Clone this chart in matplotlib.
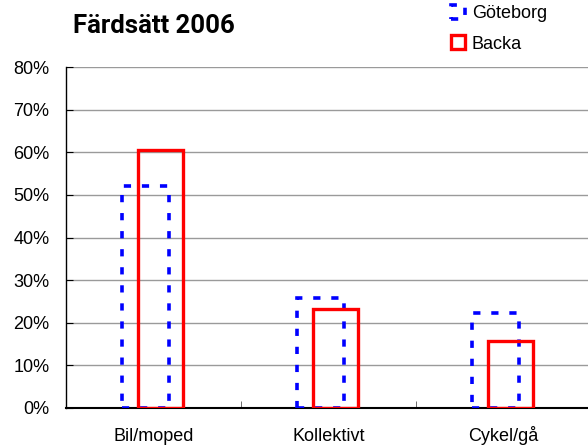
import matplotlib.pyplot as plt
import numpy as np

categories = ["Bil/moped", "Kollektivt", "Cykel/gå"]
goteborg = [52, 25.7, 22.4]
backa = [60.5, 23.2, 15.8]
y_ticks = [0, 10, 20, 30, 40, 50, 60, 70, 80]

plt.rcParams['font.family'] = ['Liberation Sans', 'DejaVu Sans']

fig = plt.figure(figsize=(5.88, 4.45), dpi=100)
ax = fig.add_axes([66 / 588, 37 / 445, 525 / 588, 341 / 445])

x = np.arange(len(categories))
ax.bar(x - 0.047, goteborg, width=0.27, fill=False, edgecolor='#0000ff',
       linewidth=2.6, linestyle=(0, (2, 3)), label='Göteborg', zorder=3)
ax.bar(x + 0.04, backa, width=0.26, fill=False, edgecolor='#ff0000',
       linewidth=2.4, label='Backa', zorder=4)

ax.set_xlim(-0.5, 2.5)
ax.set_ylim(0, 80)
ax.set_yticks(y_ticks)
ax.set_yticklabels([f"{v}%" for v in y_ticks], fontsize=13)
ax.yaxis.grid(True, color='#9a9a9a', linewidth=1)
ax.set_axisbelow(True)

ax.set_xticks(x)
ax.set_xticklabels(categories, fontsize=13, va='baseline')
ax.tick_params(axis='x', which='major', length=0, pad=24)
ax.set_xticks([0.5, 1.5], minor=True)
ax.tick_params(axis='x', which='minor', direction='in', length=5, color='#555555')
ax.tick_params(axis='y', direction='in', length=5, pad=12, color='black')

for s in ['top', 'right']:
    ax.spines[s].set_visible(False)
ax.spines['bottom'].set_linewidth(1.5)
ax.spines['left'].set_linewidth(1)

fig.text(73 / 588, 1 - 33 / 445, "Färdsätt 2006", fontsize=18.5,
         fontweight='bold', family=['Roboto', 'DejaVu Sans'], va='baseline')

fig.legend(loc='upper left', bbox_to_anchor=(451 / 588, 1 - 5 / 445),
           frameon=False, fontsize=13, handlelength=0.8, handleheight=0.85,
           handletextpad=0.35, labelspacing=0.7, borderpad=0, borderaxespad=0)

fig.savefig('out.png', dpi=100)
